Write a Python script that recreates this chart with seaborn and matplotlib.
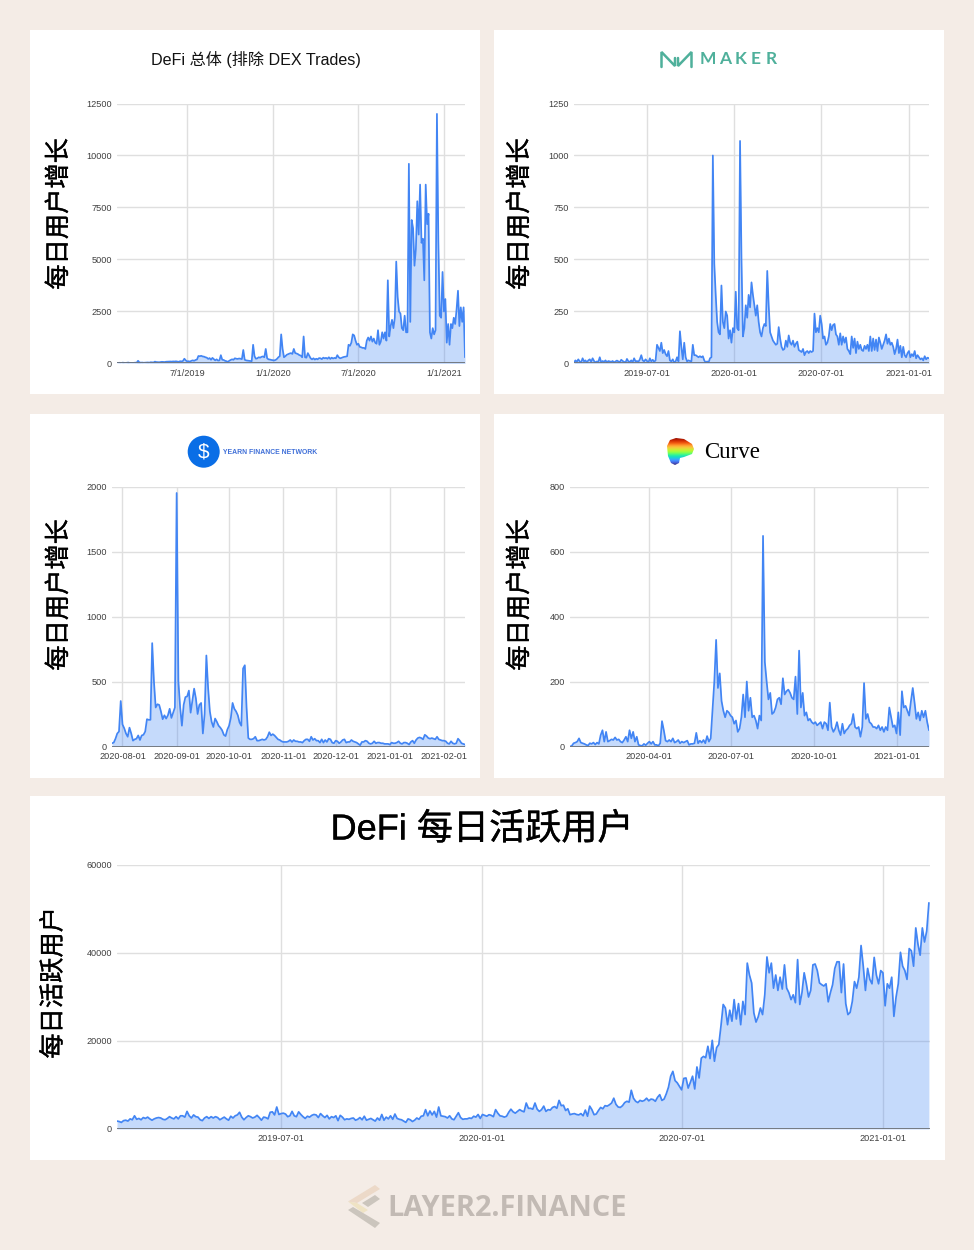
import numpy as np
import pandas as pd
import matplotlib
matplotlib.use("Agg")
import matplotlib.pyplot as plt
import matplotlib.patheffects as pe
import seaborn as sns
from matplotlib.patches import Rectangle, Circle, Polygon

# values, one value every 3 / 3 / 1 / 2 / 2 days
defi_total = [
    30,25,35,20,40,30,25,35,45,30, 30,35,30,40,35,130,50,40,45,35,
    40,45,50,40,60,55,50,90,70,65, 60,70,80,75,70,85,90,100,95,90,
    100,95,105,90,80,110,100,120,230,150, 100,110,90,130,150,130,170,190,360,350,
    370,340,330,300,280,220,260,180,270,210, 150,200,140,150,400,180,170,130,110,80,
    130,170,200,180,250,230,220,240,230,210, 650,180,150,140,130,120,110,900,350,230,
    250,300,280,320,340,300,700,250,200,190, 170,160,150,170,220,300,350,1400,700,300,
    350,420,450,480,500,460,700,500,480,450, 400,380,300,1300,300,280,500,380,250,200,
    250,190,230,200,260,250,210,280,250,270, 230,300,220,280,240,270,250,400,300,250,
    270,300,320,330,350,900,850,1000,1400,1350, 1100,900,950,800,780,750,750,700,1100,1250,
    1100,1300,1050,1200,1000,950,1600,900,1050,1500, 1200,1500,1100,4000,1300,1800,2100,1700,2200,4900,
    3200,2500,2400,1700,1600,2300,1500,1500,9600,2000, 6900,6500,4700,5500,7800,6200,8600,5800,6000,4000,
    8600,6700,7200,1500,1200,1700,1400,1600,12000,5900, 2300,2200,4400,2500,3100,1000,1900,900,1900,1700,
    2200,1900,2600,3500,1800,2700,2000,2700,300,
]
maker = [
    5,15,8,20,10,5,25,10,15,5, 15,20,8,25,12,5,10,8,30,5,
    12,8,15,6,12,10,8,12,5,10, 14,10,6,18,12,8,5,22,10,8,
    15,6,25,10,12,8,20,40,15,10, 20,12,5,25,10,18,8,15,90,75,
    60,100,50,65,45,35,60,15,10,20, 5,10,30,10,155,80,20,100,30,10,
    15,12,10,90,40,40,35,30,35,30, 35,15,5,10,5,25,30,1000,480,330,
    200,150,140,375,200,170,250,230,120,160, 100,170,150,345,170,160,1070,500,130,170,
    280,220,330,270,390,330,280,230,280,200, 150,130,170,190,180,445,280,150,130,110,
    100,90,95,175,120,80,65,70,110,80, 135,100,90,110,80,95,105,65,60,55,
    70,40,55,60,50,60,55,60,240,150, 170,150,230,190,120,130,90,100,130,190,
    160,185,190,140,130,90,145,90,130,100, 125,70,60,45,130,75,120,50,105,70,
    90,65,60,85,70,90,60,130,60,120, 65,115,60,125,100,70,90,110,140,95,
    120,90,100,80,45,70,115,50,85,30, 80,40,30,50,60,30,45,35,60,25,
    40,30,20,25,15,35,20,28,25,
]
yearn = [
    25,30,60,100,115,350,170,140,100,75, 145,100,45,55,60,85,50,85,90,115,
    210,205,205,795,500,300,325,320,270,210, 240,215,240,290,220,260,300,1950,500,300,
    160,320,380,385,430,260,350,445,370,250, 320,335,100,250,700,450,270,190,150,215,
    190,160,145,125,90,80,130,160,220,335, 290,270,240,185,160,600,625,300,65,55,
    55,60,75,45,45,50,55,50,55,75, 110,85,95,85,70,55,50,40,35,35,
    35,40,50,35,50,40,40,35,35,30, 45,55,55,40,75,50,60,45,45,30,
    55,30,50,35,60,55,30,25,45,40, 25,35,50,55,30,35,35,50,40,35,
    30,20,10,35,35,45,40,25,20,25, 40,25,30,30,25,25,20,20,20,15,
    30,25,25,30,40,25,20,30,30,25, 15,35,45,25,50,65,70,65,55,90,
    80,65,60,65,60,55,75,55,50,45, 45,40,25,20,40,25,20,25,60,45,
    25,20,15,
]
curve = [
    0,2,10,12,15,25,12,10,8,5, 3,10,8,12,6,12,8,35,50,15,
    45,15,18,22,20,28,20,22,15,12, 20,30,15,50,25,45,15,30,5,3,
    2,8,4,10,15,8,15,5,5,2, 10,78,50,18,15,20,15,25,12,15,
    20,10,15,12,15,18,5,8,8,10, 42,10,18,12,20,10,32,15,25,115,
    200,328,180,225,140,110,90,110,105,95, 90,70,80,45,55,90,160,90,200,110,
    150,90,95,80,55,95,80,648,260,200, 145,165,100,105,120,145,150,130,210,160,
    170,175,165,150,145,215,100,295,120,165, 95,105,80,85,75,70,75,65,70,75,
    55,75,70,50,135,60,45,55,75,50, 35,70,40,50,55,65,70,100,60,55,
    60,30,60,195,85,100,75,70,60,60, 55,65,50,60,45,60,50,120,90,60,
    65,40,105,35,170,120,125,110,95,140, 180,135,85,105,80,110,90,110,75,50,
]
daily_active = [
    1800,1700,1500,1900,2000,1800,2300,2100,3000,2200, 2400,2100,2600,2400,2700,2300,2000,2300,2500,2600,
    2500,2200,2100,2400,2800,2500,2300,2800,2300,3000, 3000,2700,4000,3000,2500,3200,2800,2700,2100,1900,
    2500,2800,2400,2800,2500,2800,2600,2100,2400,2700, 2300,2000,2900,2500,3000,3200,3800,2700,2100,2600,
    3000,2800,2500,2700,3100,2600,2000,2700,2600,2300, 3800,3900,3200,5000,3300,3500,3600,3400,2800,3000,
    4000,3000,2800,3900,3300,2800,2400,2900,2700,3100, 3300,3200,2600,3500,3000,2600,3100,2300,2800,2600,
    3000,1900,3100,2700,2100,2300,2200,2400,2500,2000, 2200,2600,2100,2900,2000,2200,2400,2100,1800,2500,
    2000,3300,2000,2700,2300,3000,2200,3400,2400,2200, 2100,1800,1500,2300,2100,1700,2000,2500,2200,2900,
    3000,4400,3000,4100,3200,4000,2700,5000,3000,2900, 2800,2500,3000,2300,2100,2900,3700,2600,2200,2300,
    2300,2500,2400,2900,2700,3300,2400,3300,3100,2900, 3250,3100,2800,4400,3600,3000,2900,2700,2900,3800,
    4500,3900,3600,4000,4400,4100,3900,5900,4700,4700, 4500,5900,4500,4000,4400,5200,4000,4400,4300,4900,
    5100,4700,6500,5300,5400,4200,4600,3250,3400,3500, 3300,3200,3500,3000,4300,2900,5200,4400,3250,3400,
    4200,4900,4600,5300,5200,5500,5900,7000,5600,5000, 4900,5300,6000,6300,6100,8800,7000,6300,6000,6500,
    6300,6500,7000,6400,6800,6700,6300,7200,7800,6500, 6800,8000,9500,12000,13100,11000,10500,9700,8900,11500,
    11600,9300,10600,12000,9100,14100,11600,16100,16500,16200, 18800,16000,20150,15400,18500,19200,23500,28300,27500,23700,
    27000,24500,29400,25000,28500,23700,29000,26000,37700,35000, 33200,26400,24300,25500,27500,26000,30500,39100,35500,37700,
    32000,35000,31500,34500,31800,37300,32000,31000,29400,30500, 28700,38500,28300,31000,35500,33000,30000,31500,37300,37500,
    36000,33200,32800,32500,33000,28900,31000,32800,36500,38000, 38000,31000,37500,28500,26000,26500,29000,33500,32000,34500,
    41700,37000,31500,36500,34000,33000,39000,35000,33000,36000, 35500,28000,33000,32000,34500,25600,30000,33000,40150,37000,
    36000,34000,41000,40500,37000,45700,42000,39500,45700,42500, 45000,51400,
]

iso_half = ["2019-07-01", "2020-01-01", "2020-07-01", "2021-01-01"]
us_half = ["7/1/2019", "1/1/2020", "7/1/2020", "1/1/2021"]
yearn_months = ["2020-08-01", "2020-09-01", "2020-10-01", "2020-11-01", "2020-12-01", "2021-01-01", "2021-02-01"]
curve_quarters = ["2020-04-01", "2020-07-01", "2020-10-01", "2021-01-01"]

W, H = 974, 1250
BG = "#f4ece6"
BLUE = "#4285f4"
GRID = "#dfdfdf"
CJK = ["Noto Sans CJK SC", "DejaVu Sans"]
MIXED = ["Liberation Sans", "Noto Sans CJK SC"]

sns.set_theme(style="white")
plt.rcParams["font.family"] = ["Liberation Sans", "DejaVu Sans"]

fig = plt.figure(figsize=(W / 100, H / 100), dpi=100, facecolor=BG)

# pixel-space layer for the white cards, logos and watermark
bg = fig.add_axes([0, 0, 1, 1], zorder=-1)
bg.set_xlim(0, W)
bg.set_ylim(H, 0)
bg.axis("off")
for x0, y0, x1, y1 in [(30, 30, 480, 394), (494, 30, 944, 394), (30, 414, 480, 778),
                       (494, 414, 944, 778), (30, 796, 945, 1160)]:
    bg.add_patch(Rectangle((x0, y0), x1 - x0, y1 - y0, fc="white", ec="none"))


def panel(box, start, step, end, values, ymax, ystep, ticks, labels):
    l, t, r, b = box
    ax = fig.add_axes([l / W, 1 - b / H, (r - l) / W, (b - t) / H])
    dates = pd.date_range(start, periods=len(values), freq=f"{step}D")
    ax.fill_between(dates, values, 0, color=BLUE, alpha=0.3, lw=0, zorder=3)
    sns.lineplot(x=dates, y=values, ax=ax, color=BLUE, lw=1.25, zorder=4)
    ax.axhline(0, color="#6f7378", lw=1.3, zorder=5)
    ax.set_xlim(pd.Timestamp(start), pd.Timestamp(end))
    ax.set_ylim(0, ymax)
    ax.set_xticks(pd.to_datetime(ticks))
    ax.set_xticklabels(labels)
    ax.set_yticks(np.arange(0, ymax + 1, ystep))
    ax.grid(True, color=GRID, lw=1.0, zorder=1)
    ax.set_axisbelow(True)
    ax.tick_params(length=0, labelsize=6.6, labelcolor="#404040")
    ax.tick_params(axis="x", pad=3.9)
    ax.tick_params(axis="y", pad=3.5)
    ax.set_xlabel("")
    ax.set_ylabel("")
    sns.despine(ax=ax, left=True, bottom=True)
    ax.patch.set_alpha(0)
    return ax


panel((117, 103.5, 465, 363.5), "2019-02-01", 3, "2021-02-14", defi_total, 12500, 2500, iso_half, us_half)
panel((574, 103.5, 929, 363.5), "2019-01-30", 3, "2021-02-12", maker, 1250, 250, iso_half, iso_half)
panel((112, 486.5, 465, 746.5), "2020-07-26", 1, "2021-02-13", yearn, 2000, 500, yearn_months, yearn_months)
panel((570, 486.5, 929, 746.5), "2020-01-04", 2, "2021-02-05", curve, 800, 200, curve_quarters, curve_quarters)
panel((117, 865, 930, 1129), "2019-02-01", 2, "2021-02-13", daily_active, 60000, 20000, iso_half, iso_half)

# y axis captions and titles
heavy = [pe.withStroke(linewidth=0.25, foreground="black")]
for x, y, s in [(59, 214, "每日用户增长"), (520, 214, "每日用户增长"), (59, 595, "每日用户增长"),
                (520, 595, "每日用户增长"), (53.5, 983, "每日活跃用户")]:
    bg.text(x, y, s, rotation=90, ha="center", va="center", fontsize=18.2, color="black",
            family=CJK, path_effects=heavy)
bg.text(256, 59.5, "DeFi 总体 (排除 DEX Trades)", ha="center", va="center", fontsize=11.6,
        color="#111111", family=MIXED)
bg.text(482, 830, "DeFi 每日活跃用户", ha="center", va="center", fontsize=26, color="black",
        family=MIXED, path_effects=heavy)

# Maker logo
TEAL = "#4fb09b"
bg.plot([661.5, 661.5, 675, 675], [67, 52, 66, 58], color=TEAL, lw=1.8, solid_joinstyle="miter")
bg.plot([691.5, 691.5, 678, 678], [67, 52, 66, 58], color=TEAL, lw=1.8, solid_joinstyle="miter")
for x, ch in zip([708, 725, 741, 756, 771], "MAKER"):
    bg.text(x, 59, ch, ha="center", va="center", fontsize=12.5, color=TEAL, family="Lato", weight="bold")

# Yearn logo
bg.add_patch(Circle((203.7, 451.7), 16, fc="#0a6ee6", ec="none"))
bg.text(203.7, 451.7, "$", ha="center", va="center", fontsize=15, color="white", family="Liberation Sans")
bg.text(223, 452, "YEARN FINANCE NETWORK", ha="left", va="center", fontsize=4.98, color="#3f6fd8",
        weight="bold", family="Liberation Sans")

# Curve logo, a rainbow blob
blob = Polygon([(667, 446), (670, 440), (676, 438), (684, 439), (692, 444), (694, 449), (692, 454),
                (684, 457), (680, 458), (679, 463), (675, 465), (671, 463), (668, 456)],
               transform=bg.transData, fc="none", ec="none")
bg.add_patch(blob)
rainbow = bg.imshow(np.linspace(0, 1, 64)[:, None], cmap="turbo_r", extent=(666, 695, 466, 437),
                    aspect="auto", zorder=2)
rainbow.set_clip_path(blob)
bg.set_xlim(0, W)
bg.set_ylim(H, 0)
bg.text(732, 453, "Curve", ha="center", va="center", fontsize=16.5, color="black", family="Liberation Serif")

# watermark
bg.add_patch(Polygon([(348, 1201.5), (375, 1185), (380, 1189), (357, 1203)], fc="#ecd9c8", ec="none"))
bg.add_patch(Polygon([(348, 1201.5), (357, 1203), (368, 1210), (363, 1213)], fc="#efe3c4", ec="none"))
bg.add_patch(Polygon([(362, 1203), (375, 1195), (380, 1199), (368, 1207)], fc="#cbc5bd", ec="none"))
bg.add_patch(Polygon([(348, 1210), (353, 1207), (380, 1223), (375, 1228)], fc="#cbc5bd", ec="none"))
bg.text(387.5, 1209, "LAYER2.FINANCE", ha="left", va="center", fontsize=20.8, color="#c2bab4",
        weight="bold", family="Open Sans")

fig.savefig("out.png", dpi=100, facecolor=BG)
